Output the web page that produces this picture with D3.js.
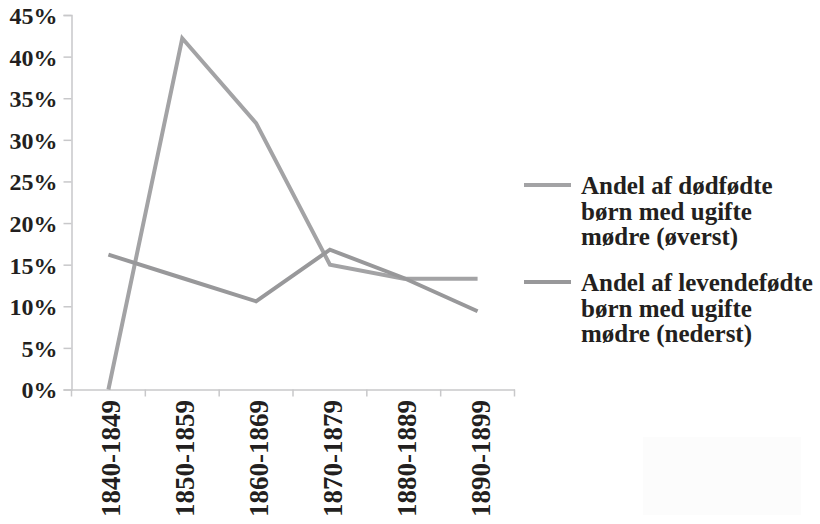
<!DOCTYPE html>
<html>
<head>
<meta charset="utf-8">
<script src="https://cdn.jsdelivr.net/npm/d3@7"></script>
<style>
  body { margin: 0; background: #fff; }
</style>
</head>
<body>
<svg id="chart" width="820" height="524"></svg>
<script>
// Data
const periods = ["1840-1849", "1850-1859", "1860-1869", "1870-1879", "1880-1889", "1890-1899"];
const stillborn = [0, 42.2, 32.0, 15.0, 13.3, 13.3];
const liveborn = [16.2, 13.4, 10.6, 16.8, 13.4, 9.4];
const yTicks = [0, 5, 10, 15, 20, 25, 30, 35, 40, 45];
const seriesNames = [
  ["Andel af dødfødte", "børn med ugifte", "mødre (øverst)"],
  ["Andel af levendefødte", "børn med ugifte", "mødre (nederst)"]
];
const seriesColors = ["#a3a3a5", "#98989a"];

const serif = "'Liberation Serif', serif";
const ink = "#231f20";

const svg = d3.select("svg#chart");

// Faint box bottom right
svg.append("rect")
  .attr("x", 643).attr("y", 437)
  .attr("width", 158).attr("height", 78)
  .style("fill", "#fcfcfc");

// Scales
const x = d3.scaleBand()
  .domain(periods)
  .range([71.5, 514.5]);

const y = d3.scaleLinear()
  .domain([0, 45])
  .range([389.5, 15]);

// Y axis
const yAxis = svg.append("g")
  .attr("transform", "translate(71.5,0)")
  .call(d3.axisLeft(y).tickValues(yTicks).tickSize(8).tickPadding(6).tickFormat(d => d + "%"));
yAxis.select(".domain").attr("stroke", "#c8c8ca").attr("stroke-width", 1.5);
yAxis.selectAll(".tick line").attr("stroke", "#c8c8ca").attr("stroke-width", 1.5);
yAxis.selectAll(".tick text")
  .attr("dy", "0.35em")
  .style("font-family", serif)
  .style("font-weight", "bold")
  .style("font-size", "24px")
  .style("fill", ink);

// X axis
const xAxis = svg.append("g")
  .attr("transform", "translate(0,389.5)")
  .call(d3.axisBottom(x).tickSize(0).tickSizeOuter(0).tickFormat(""));
xAxis.select(".domain").attr("stroke", "#c8c8ca").attr("stroke-width", 1.5);

// X ticks at band edges
const edges = periods.map(p => x(p)).concat([x.range()[1]]);
xAxis.selectAll("line.edge")
  .data(edges)
  .join("line")
    .attr("class", "edge")
    .attr("x1", d => d).attr("x2", d => d)
    .attr("y1", 0).attr("y2", 7)
    .attr("stroke", "#c8c8ca")
    .attr("stroke-width", 1.5);

// X labels, rotated
svg.selectAll("text.xlabel")
  .data(periods)
  .join("text")
    .attr("class", "xlabel")
    .attr("transform", d => "translate(" + (x(d) + x.bandwidth() / 2 + 12) + ",400) rotate(-90)")
    .style("text-anchor", "end")
    .style("font-family", serif)
    .style("font-weight", "bold")
    .style("font-size", "27px")
    .style("fill", ink)
    .text(d => d);

// Lines
const line = d3.line()
  .x((d, i) => x(periods[i]) + x.bandwidth() / 2)
  .y(d => y(d));

[stillborn, liveborn].forEach((series, k) => {
  svg.append("path")
    .datum(series)
    .attr("d", line)
    .attr("fill", "none")
    .attr("stroke", seriesColors[k])
    .attr("stroke-width", 4)
    .attr("stroke-linejoin", "miter");
});

// Legend
const legend = svg.append("g");
const legendY = [185, 282];
seriesNames.forEach((lines, k) => {
  legend.append("line")
    .attr("x1", 524).attr("x2", 571)
    .attr("y1", legendY[k]).attr("y2", legendY[k])
    .attr("stroke", seriesColors[k])
    .attr("stroke-width", 4);
  legend.selectAll("text.l" + k)
    .data(lines)
    .join("text")
      .attr("class", "l" + k)
      .attr("x", 581)
      .attr("y", (d, i) => legendY[k] + 9 + i * 25.5)
      .style("font-family", serif)
      .style("font-weight", "bold")
      .style("font-size", "25px")
      .style("fill", ink)
      .text(d => d);
});
</script>
</body>
</html>
